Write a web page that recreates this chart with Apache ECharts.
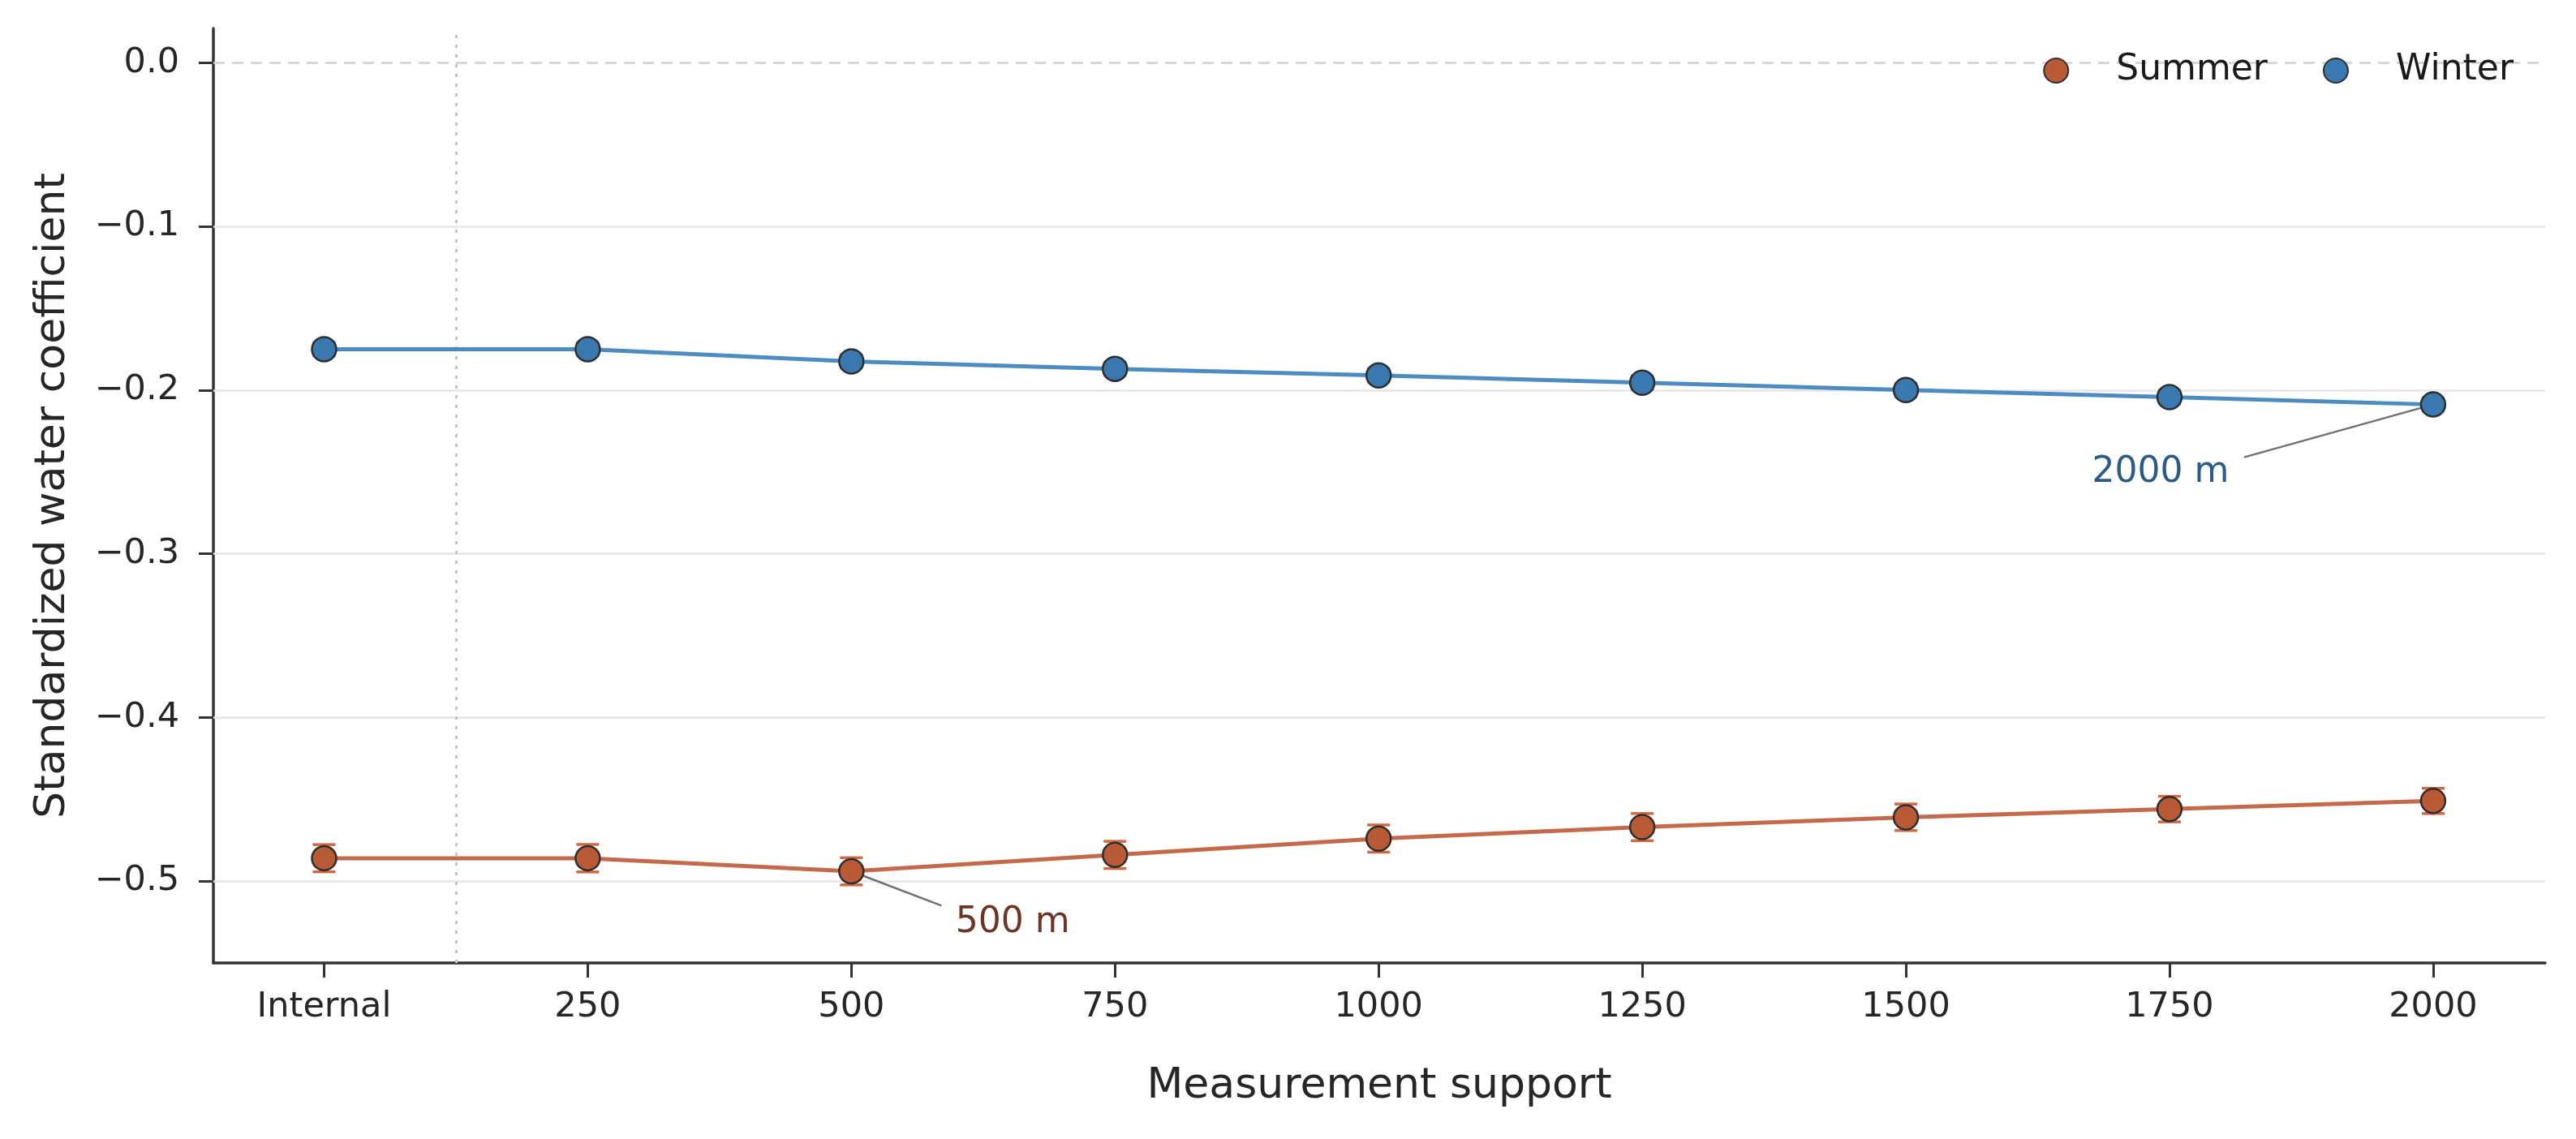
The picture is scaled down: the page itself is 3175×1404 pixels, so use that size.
<!DOCTYPE html>
<html>
<head>
<meta charset="utf-8">
<script src="https://cdn.jsdelivr.net/npm/echarts@6/dist/echarts.min.js"></script>
<style>
  html, body { margin: 0; padding: 0; background: #fff; }
  #chart { width: 3175px; height: 1404px; }
</style>
</head>
<body>
<div id="chart"></div>
<script>
// categories along the x axis
var xLabels = ['Internal', '250', '500', '750', '1000', '1250', '1500', '1750', '2000'];

// summer: coefficient and its error
var summerVals = [-0.486, -0.486, -0.494, -0.484, -0.474, -0.467, -0.461, -0.456, -0.451];
var summerErr = [0.0083, 0.0084, 0.0083, 0.0083, 0.0083, 0.0083, 0.0081, 0.0078, 0.0077];

// winter: coefficient and its error
var winterVals = [-0.175, -0.175, -0.1825, -0.187, -0.191, -0.1955, -0.200, -0.2043, -0.2088];
var winterErr = [0.004, 0.004, 0.004, 0.004, 0.004, 0.004, 0.004, 0.004, 0.004];

var yTicks = [0, -0.1, -0.2, -0.3, -0.4, -0.5];

var FONT = 'DejaVu Sans';
var SUMMER = '#b85a35', SUMMER_LINE = '#c4694a', SUMMER_ERR = '#cf6a44';
var WINTER = '#3a79b0', WINTER_LINE = '#4d8cc0', WINTER_ERR = '#4a88bf';

function pts(vals) {
	return vals.map(function (v, i) { return [i, v]; });
}
function errs(vals, e) {
	return vals.map(function (v, i) { return [i, v - e[i], v + e[i]]; });
}
function errBar(color) {
	return function (params, api) {
		var x = api.value(0);
		var lo = api.coord([x, api.value(1)]);
		var hi = api.coord([x, api.value(2)]);
		var st = { stroke: color, lineWidth: 3.5 };
		return {
			type: 'group',
			children: [
				{ type: 'line', shape: { x1: lo[0], y1: lo[1], x2: hi[0], y2: hi[1] }, style: st },
				{ type: 'line', shape: { x1: lo[0] - 14, y1: lo[1], x2: lo[0] + 14, y2: lo[1] }, style: st },
				{ type: 'line', shape: { x1: hi[0] - 14, y1: hi[1], x2: hi[0] + 14, y2: hi[1] }, style: st }
			]
		};
	};
}
function yFmt(v) {
	if (Math.abs(v) < 1e-9) return '0.0';
	return (v < 0 ? '\u2212' : '') + Math.abs(v).toFixed(1);
}

var myChart = echarts.init(document.getElementById('chart'));
var gridLines = yTicks.filter(function (v) { return v !== 0; }).map(function (v) {
	return { yAxis: v, lineStyle: { color: '#e6e6ea', width: 2.5, type: 'solid' } };
});
gridLines.push({ yAxis: 0, lineStyle: { color: '#cfd0d8', width: 2.5, type: [14, 9] } });
gridLines.push({ xAxis: 0.5, lineStyle: { color: '#c2c4cc', width: 3, type: [4, 8] } });

option = {
	animation: false,
	backgroundColor: '#ffffff',
	textStyle: { fontFamily: FONT },
	grid: {
		left: 263,
		right: 38,
		top: 35,
		bottom: 217
	},
	legend: {
		right: 72,
		top: 60,
		itemWidth: 30,
		itemHeight: 30,
		itemGap: 68,
		data: [{ name: 'Summer', icon: 'circle' }, { name: 'Winter', icon: 'circle' }],
		textStyle: { fontFamily: FONT, fontSize: 44, color: '#1a1a1a', padding: [0, 0, 0, 54] }
	},
	xAxis: {
		type: 'value',
		min: -0.42,
		max: 8.425,
		name: 'Measurement support',
		nameLocation: 'middle',
		nameGap: 126,
		nameTextStyle: { fontFamily: FONT, fontSize: 52, color: '#262626' },
		axisLine: { show: true, onZero: false, lineStyle: { color: '#333333', width: 3.5 } },
		axisTick: { show: true, length: 18, lineStyle: { color: '#333333', width: 3 }, customValues: xLabels.map(function (l, i) { return i; }) },
		axisLabel: {
			fontFamily: FONT, fontSize: 43, color: '#262626', margin: 33,
			customValues: xLabels.map(function (l, i) { return i; }),
			formatter: function (v) { return xLabels[Math.round(v)]; }
		},
		splitLine: { show: false }
	},
	yAxis: {
		type: 'value',
		min: -0.55,
		max: 0.021,
		name: 'Standardized water coefficient',
		nameLocation: 'middle',
		nameGap: 172,
		nameTextStyle: { fontFamily: FONT, fontSize: 52, color: '#262626' },
		axisLine: { show: true, onZero: false, lineStyle: { color: '#333333', width: 3.5 } },
		axisTick: { show: true, length: 18, lineStyle: { color: '#333333', width: 3 }, customValues: yTicks },
		axisLabel: { fontFamily: FONT, fontSize: 43, color: '#262626', margin: 42, customValues: yTicks, formatter: yFmt },
		splitLine: { show: false }
	},
	series: [{
		name: 'Summer err',
		type: 'custom',
		renderItem: errBar(SUMMER_ERR),
		data: errs(summerVals, summerErr),
		z: 3,
		silent: true
	}, {
		name: 'Winter err',
		type: 'custom',
		renderItem: errBar(WINTER_ERR),
		data: errs(winterVals, winterErr),
		z: 3,
		silent: true
	}, {
		name: 'Summer',
		type: 'line',
		data: pts(summerVals),
		symbol: 'circle',
		symbolSize: 30,
		z: 4,
		lineStyle: { color: SUMMER_LINE, width: 5 },
		itemStyle: { color: SUMMER, borderColor: '#2e2e2e', borderWidth: 2.5 },
		emphasis: { disabled: true },
		markLine: {
			silent: true,
			z: 1,
			symbol: 'none',
			label: { show: false },
			data: gridLines
		}
	}, {
		name: 'Winter',
		type: 'line',
		data: pts(winterVals),
		symbol: 'circle',
		symbolSize: 30,
		z: 4,
		lineStyle: { color: WINTER_LINE, width: 5 },
		itemStyle: { color: WINTER, borderColor: '#2e2e2e', borderWidth: 2.5 },
		emphasis: { disabled: true },
		markLine: {
			silent: true,
			z: 2,
			symbol: 'none',
			label: { show: false },
			lineStyle: { color: '#707070', width: 2.5, type: 'solid' },
			data: [
				[{ coord: [8, winterVals[8]] }, { coord: [7.283, -0.241] }],
				[{ coord: [2, summerVals[2]] }, { coord: [2.342, -0.515] }]
			]
		},
		markPoint: {
			silent: true,
			symbol: 'circle',
			symbolSize: 1,
			itemStyle: { color: 'rgba(0,0,0,0)' },
			label: { show: true, position: 'inside', fontFamily: FONT, fontSize: 44, formatter: '{b}' },
			data: [
				{ name: '2000 m', coord: [6.966, -0.2504], label: { color: '#2b5b86' } },
				{ name: '500 m', coord: [2.612, -0.5254], label: { color: '#6b3626' } }
			]
		}
	}]
};
myChart.setOption(option);
</script>
</body>
</html>
